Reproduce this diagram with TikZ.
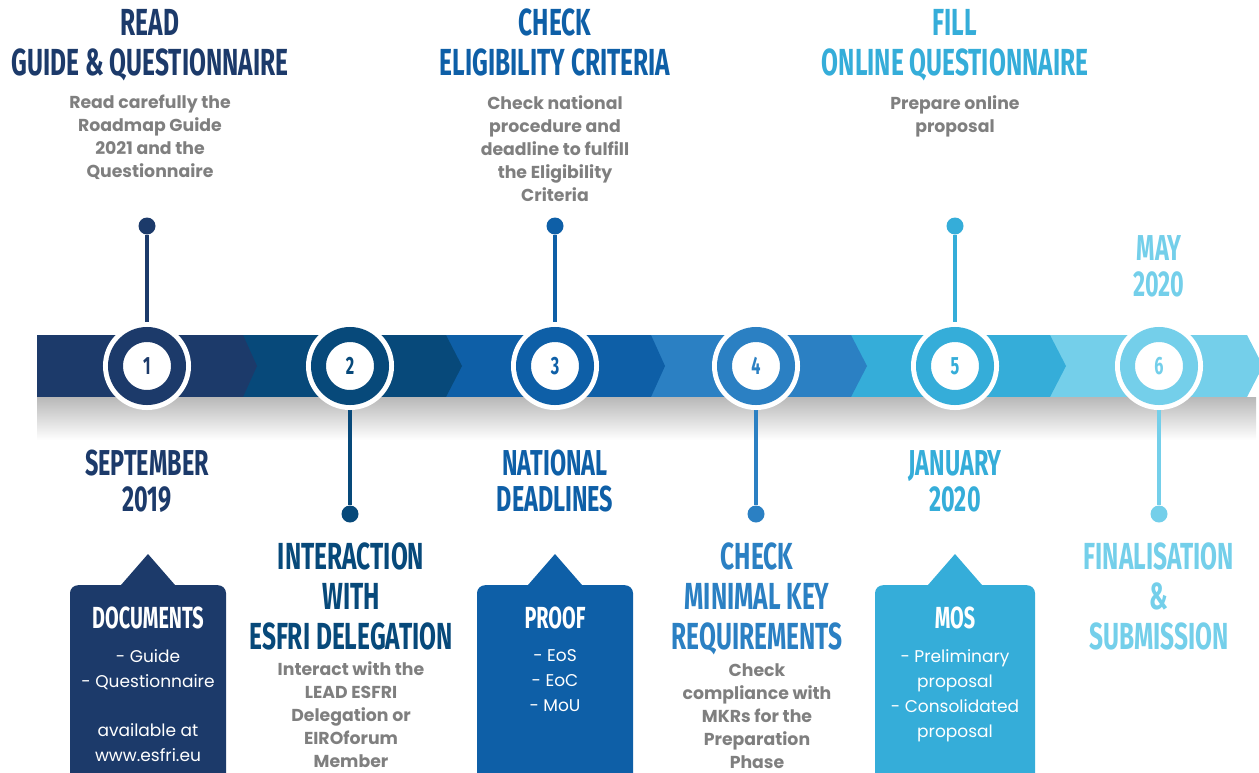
\documentclass[tikz,border=0pt]{standalone}
\usepackage{fontspec}
\setmainfont{Poppins}
\newfontfamily\headfont{Fira Sans}[FakeStretch=0.65]
\usetikzlibrary{positioning}

\definecolor{navy}{HTML}{1C3A6A}
\definecolor{deepblue}{HTML}{07497A}
\definecolor{midblue}{HTML}{0E5FA7}
\definecolor{skyblue}{HTML}{2B80C3}
\definecolor{cyanblue}{HTML}{35ADD9}
\definecolor{paleblue}{HTML}{74CFEA}
\definecolor{textgray}{HTML}{7F7F7F}

\begin{document}
\begin{tikzpicture}[x=1pt,y=-1pt,
    step node/.style={circle,fill=white,draw=#1,text=#1,line width=15pt,minimum size=63pt,inner sep=0pt,
        preaction={draw=white,line width=25pt},font=\headfont\bfseries\fontsize{25}{25}\selectfont},
    dot node/.style={circle,fill=#1,minimum size=17pt,inner sep=0pt},
    stem/.style={draw=#1,line width=3.3pt},
    head text/.style={font=\headfont\bfseries\fontsize{37.7}{40}\selectfont,text=#1,align=center,inner sep=0pt,anchor=north},
    date text/.style={font=\headfont\bfseries\fontsize{36}{36}\selectfont,text=#1,align=center,inner sep=0pt,anchor=north},
    note text/.style={font=\bfseries\fontsize{17.3}{23}\selectfont,text=textgray,align=center,inner sep=0pt},
    box node/.style={rectangle,rounded corners=8pt,fill=#1,minimum width=156pt,minimum height=220pt,anchor=north,inner sep=0pt},
    box head/.style={font=\headfont\bfseries\fontsize{30.5}{30.5}\selectfont,text=white,inner sep=0pt},
    box text/.style={font=\fontsize{17}{24.8}\selectfont,text=white,align=center,inner sep=0pt}]

    \useasboundingbox (0,0) rectangle (1259,772);
    \clip (0,0) rectangle (1259,772);

    % ribbon, right to left so that each tip lies on the next part
    \fill[paleblue] (1050,335) -- (1247,335) -- (1263,366) -- (1247,397) -- (1050,397) -- cycle;
    \fill[cyanblue] (851,335) -- (1050,335) -- (1066,366) -- (1050,397) -- (851,397) -- cycle;
    \fill[skyblue] (651,335) -- (851,335) -- (867,366) -- (851,397) -- (651,397) -- cycle;
    \fill[midblue] (446,335) -- (651,335) -- (665,366) -- (651,397) -- (446,397) -- cycle;
    \fill[deepblue] (243,335) -- (446,335) -- (462,366) -- (446,397) -- (243,397) -- cycle;
    \fill[navy] (37,335) -- (243,335) -- (257,366) -- (243,397) -- (37,397) -- cycle;
    \shade[top color=black!28,bottom color=white] (37,397) rectangle (1256,440);

    % end points of the stems
    \node[dot node=navy] (d1) at (147,226) {};
    \node[dot node=deepblue] (d2) at (350,514) {};
    \node[dot node=midblue] (d3) at (555,226) {};
    \node[dot node=skyblue] (d4) at (756,514) {};
    \node[dot node=cyanblue] (d5) at (955,226) {};
    \node[dot node=paleblue] (d6) at (1159,514) {};

    \path[stem=navy] (d1) -- (147,366);
    \path[stem=deepblue] (d2) -- (350,366);
    \path[stem=midblue] (d3) -- (555,366);
    \path[stem=skyblue] (d4) -- (756,366);
    \path[stem=cyanblue] (d5) -- (955,366);
    \path[stem=paleblue] (d6) -- (1159,366);

    % steps
    \node[step node=navy] (s1) at (147,366) {1};
    \node[step node=deepblue] (s2) at (350,366) {2};
    \node[step node=midblue] (s3) at (555,366) {3};
    \node[step node=skyblue] (s4) at (756,366) {4};
    \node[step node=cyanblue] (s5) at (955,366) {5};
    \node[step node=paleblue] (s6) at (1159,366) {6};

    % texts above the ribbon
    \node[head text=navy] (readhead) at (150,9) {READ\\GUIDE \& QUESTIONNAIRE};
    \node[note text,below=14pt of readhead] (readnote) {Read carefully the\\Roadmap Guide\\2021 and the\\Questionnaire};
    \node[head text=midblue] (checkhead) at (555,9) {CHECK\\ELIGIBILITY CRITERIA};
    \node[note text,below=19pt of checkhead] (checknote) {Check national\\procedure and\\deadline to fulfill\\the Eligibility\\Criteria};
    \node[head text=cyanblue] (fillhead) at (955,9) {FILL\\ONLINE QUESTIONNAIRE};
    \node[note text,below=14pt of fillhead] (fillnote) {Prepare online\\proposal};
    \node[date text=paleblue] (mayhead) at (1159,235) {MAY\\2020};

    % texts below the ribbon
    \node[date text=navy] (sephead) at (147,450) {SEPTEMBER\\2019};
    \node[date text=midblue] (nathead) at (555,450) {NATIONAL\\DEADLINES};
    \node[date text=cyanblue] (janhead) at (955,450) {JANUARY\\2020};

    \node[head text=deepblue] (esfrihead) at (351,543) {INTERACTION\\WITH\\ESFRI DELEGATION};
    \node[note text,below=11pt of esfrihead] (esfrinote) {Interact with the\\LEAD ESFRI\\Delegation or\\EIROforum\\Member};
    \node[head text=skyblue] (mkrhead) at (757,543) {CHECK\\MINIMAL KEY\\REQUIREMENTS};
    \node[note text,below=8pt of mkrhead] (mkrnote) {Check\\compliance with\\MKRs for the\\Preparation\\Phase};
    \node[head text=paleblue] (finalhead) at (1159,543) {FINALISATION\\\&\\SUBMISSION};

    % boxes
    \node[box node=navy] (docbox) at (148,585) {};
    \fill[navy] ([xshift=-27pt]docbox.north) -- ([yshift=31pt]docbox.north) -- ([xshift=27pt]docbox.north) -- cycle;
    \node[box head,below=22pt of docbox.north] (dochead) {DOCUMENTS};
    \node[box text,below=20pt of dochead] (doclist) {- Guide\\- Questionnaire\\[24pt]available at\\www.esfri.eu};

    \node[box node=midblue] (proofbox) at (555,585) {};
    \fill[midblue] ([xshift=-27pt]proofbox.north) -- ([yshift=31pt]proofbox.north) -- ([xshift=27pt]proofbox.north) -- cycle;
    \node[box head,below=22pt of proofbox.north] (proofhead) {PROOF};
    \node[box text,below=20pt of proofhead] (prooflist) {- EoS\\- EoC\\- MoU};

    \node[box node=cyanblue,minimum width=160pt] (mosbox) at (955,585) {};
    \fill[cyanblue] ([xshift=-27pt]mosbox.north) -- ([yshift=31pt]mosbox.north) -- ([xshift=27pt]mosbox.north) -- cycle;
    \node[box head,below=22pt of mosbox.north] (moshead) {MOS};
    \node[box text,below=20pt of moshead] (moslist) {- Preliminary\\proposal\\- Consolidated\\proposal};
\end{tikzpicture}
\end{document}
